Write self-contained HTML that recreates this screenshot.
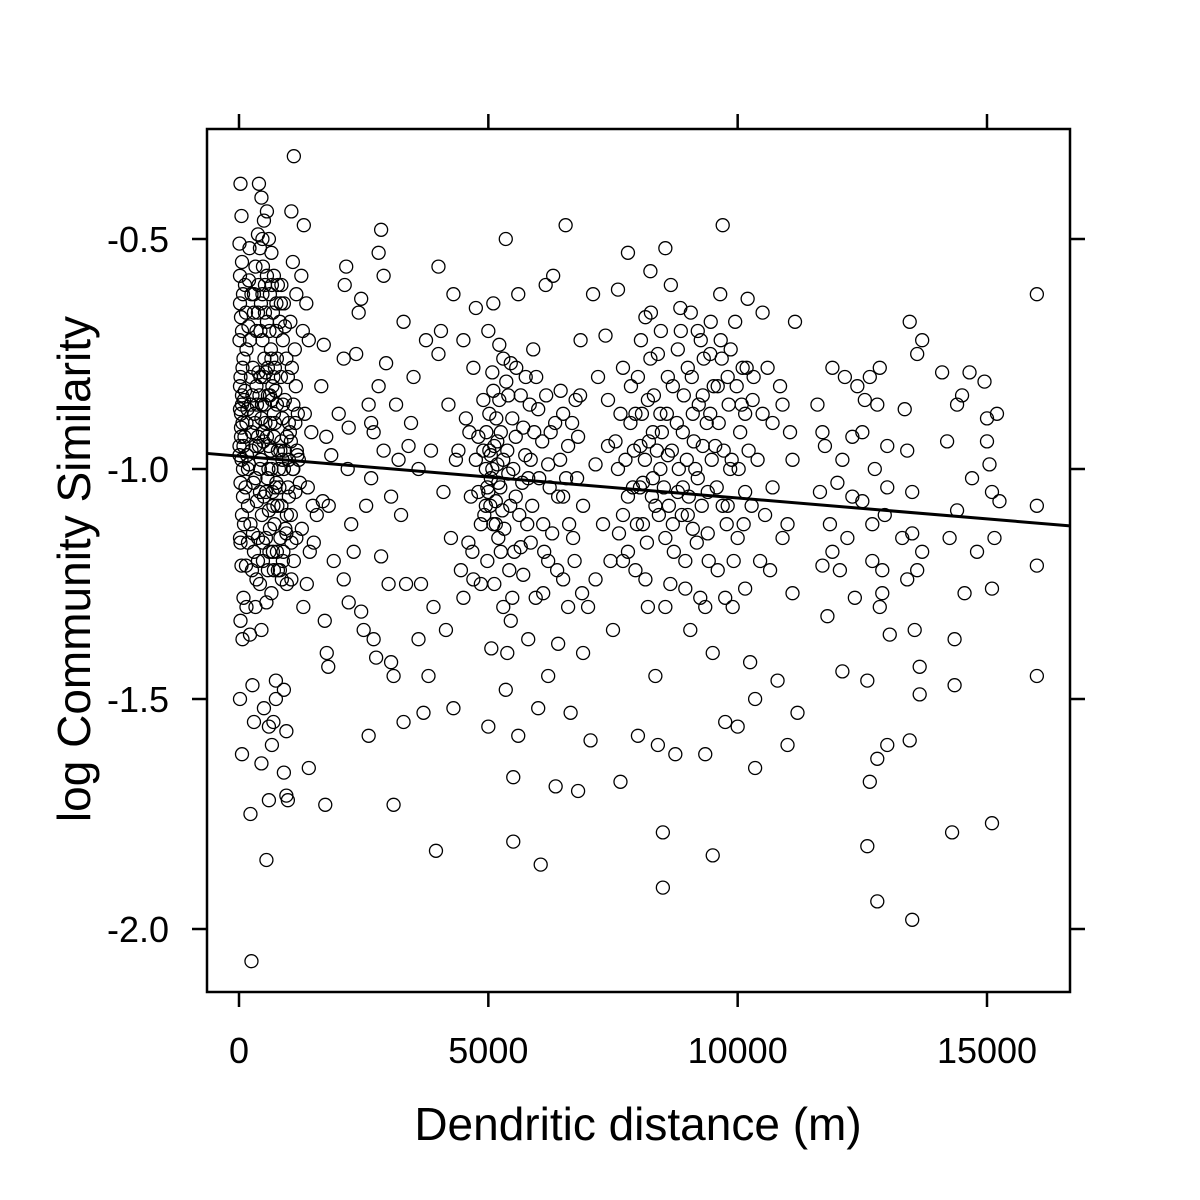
<!DOCTYPE html>
<html><head><meta charset="utf-8"><style>
html,body{margin:0;padding:0;background:#fff;}
svg{display:block;font-family:"Liberation Sans",Arial,sans-serif;}
</style></head><body>
<svg id="chart" width="1200" height="1200" viewBox="0 0 1200 1200">
<rect x="207" y="129" width="863" height="863" fill="none" stroke="#000" stroke-width="2.5"/>
<g id="ticks"></g>
<g id="pts"></g>
<g id="fit"></g>
<text x="638" y="1140" font-size="46" text-anchor="middle">Dendritic distance (m)</text>
<text transform="translate(90,569) rotate(-90)" font-size="46" text-anchor="middle">log Community Similarity</text>
</svg>
<script>
const xTicks = [0, 5000, 10000, 15000];
const xTickLabels = ["0", "5000", "10000", "15000"];
const yTicks = [-0.5, -1.0, -1.5, -2.0];
const yTickLabels = ["-0.5", "-1.0", "-1.5", "-2.0"];
const fitIntercept = -0.972;
const fitSlope = -0.0000091;
const obs = [
[30,-0.38],[50,-0.45],[10,-0.51],[60,-0.55],[20,-0.58],[80,-0.62],[40,-0.67],[10,-0.72],[90,-0.76],[30,-0.80],[60,-0.84],[20,-0.87],[70,-0.90],[40,-0.93],[10,-0.97],[80,-1.00],[30,-1.03],[60,-1.10],[20,-1.15],[50,-1.21],[90,-1.28],[30,-1.33],[70,-1.37],[20,-1.50],[60,-1.62],[40,-0.88],[100,-0.85],[10,-0.95],[50,-0.98],[80,-1.06],[30,-1.16],[60,-0.70],[20,-0.64],
[200,-0.59],[250,-0.62],[300,-0.66],[220,-0.72],[280,-0.78],[350,-0.82],[240,-0.86],[310,-0.88],[260,-0.92],[330,-0.95],[200,-0.99],[290,-1.03],[360,-1.07],[230,-1.12],[300,-1.18],[260,-1.22],[330,-1.30],[220,-1.36],[270,-1.47],[300,-1.55],[230,-1.75],[250,-2.07],[210,-0.52],[330,-0.56],[380,-0.49],[390,-0.60],[400,-0.38],
[450,-0.41],[500,-0.46],[420,-0.52],[480,-0.56],[520,-0.60],[440,-0.64],[560,-0.68],[470,-0.72],[510,-0.76],[430,-0.80],[580,-0.84],[460,-0.86],[530,-0.90],[490,-0.94],[440,-0.98],[570,-1.02],[500,-1.06],[460,-1.10],[540,-1.15],[480,-1.20],[420,-1.25],[550,-1.29],[450,-1.35],[500,-1.52],[450,-1.64],[550,-1.85],[600,-1.56],[600,-1.72],[560,-0.44],[600,-0.50],
[650,-0.53],[700,-0.58],[620,-0.62],[680,-0.66],[750,-0.70],[640,-0.74],[720,-0.78],[670,-0.82],[760,-0.86],[630,-0.90],[700,-0.93],[780,-0.96],[650,-1.00],[730,-1.04],[690,-1.08],[620,-1.13],[760,-1.18],[700,-1.22],[650,-1.27],[740,-1.46],[690,-1.55],[660,-1.60],[740,-1.50],
[850,-0.60],[900,-0.64],[820,-0.68],[880,-0.72],[950,-0.76],[840,-0.80],[920,-0.85],[870,-0.89],[960,-0.93],[830,-0.96],[900,-1.00],[980,-1.04],[850,-1.08],[930,-1.13],[890,-1.18],[820,-1.22],[960,-1.25],[900,-1.48],[950,-1.57],[900,-1.66],[950,-1.71],[980,-1.72],[860,-1.24],[960,-1.10],
[1050,-0.44],[1100,-0.32],[1080,-0.55],[1150,-0.62],[1030,-0.68],[1120,-0.74],[1060,-0.78],[1140,-0.82],[1090,-0.86],[1020,-0.92],[1160,-0.96],[1080,-1.00],[1130,-1.05],[1040,-1.10],[1150,-1.15],[1100,-1.20],[1050,-1.24],[1170,-0.97],
[1300,-0.47],[1250,-0.58],[1350,-0.64],[1280,-0.70],[1400,-0.72],[1320,-0.88],[1450,-0.92],[1380,-1.04],[1260,-1.13],[1420,-1.18],[1360,-1.25],[1290,-1.30],[1480,-1.08],[1400,-1.65],[1560,-1.10],[1500,-1.16],
[1700,-0.73],[1650,-0.82],[1750,-0.93],[1680,-1.07],[1800,-1.08],[1720,-1.33],[1760,-1.40],[1790,-1.43],[1730,-1.73],[1900,-1.20],[1850,-0.97],
[2000,-0.88],[2100,-0.76],[2150,-0.56],[2120,-0.60],[2200,-0.91],[2180,-1.00],[2250,-1.12],[2100,-1.24],[2300,-1.18],[2200,-1.29],[2350,-0.75],[2400,-0.66],[2450,-0.63],[2450,-1.31],[2500,-1.35],[2550,-1.08],[2600,-0.86],[2600,-1.58],[2650,-1.02],[2700,-0.92],[2700,-1.37],[2750,-1.41],[2800,-0.53],[2850,-0.48],[2800,-0.82],[2900,-0.58],[2900,-0.96],[2850,-1.19],[3000,-1.25],[2950,-0.77],[3050,-1.42],[3100,-1.45],[3100,-1.73],[3150,-0.86],[3200,-0.98],[3250,-1.10],[3300,-0.68],[3300,-1.55],[3350,-1.25],[3400,-0.95],[3450,-0.90],[3500,-0.80],[3600,-1.37],[3650,-1.25],[3700,-1.53],[3750,-0.72],[3800,-1.45],[3850,-0.96],[3900,-1.30],[3950,-1.83],[4000,-0.56],[4000,-0.75],[4050,-0.70],[4100,-1.05],[4150,-1.35],[4200,-0.86],[4250,-1.15],[4300,-1.52],[4300,-0.62],[4350,-0.98],[4400,-0.96],[4450,-1.22],[4500,-1.28],[4500,-0.72],[4550,-0.89],[4600,-1.16],[4650,-1.06],[4700,-1.24],[4700,-0.78],[4750,-0.65],[4800,-0.93],
[4900,-0.85],[4950,-1.00],[5000,-1.05],[5050,-0.97],[4920,-1.10],[5100,-0.64],[5000,-0.70],[5080,-0.79],[5020,-0.88],[4980,-1.20],[5120,-1.25],[5060,-1.39],[5000,-1.56],[5150,-1.12],[5200,-1.03],[5180,-0.94],[5220,-0.73],[5250,-1.18],[5300,-1.30],[5350,-0.50],[5350,-1.48],[5400,-1.01],[5400,-0.84],[5450,-0.77],[5450,-1.33],[5500,-1.67],[5500,-1.81],[5550,-1.06],[5550,-0.93],[5600,-0.62],[5600,-1.58],[5650,-1.17],[5700,-0.91],[5700,-1.23],[5750,-0.80],[5800,-1.37],[5800,-1.02],[5850,-0.98],[5900,-0.74],[5950,-1.28],[6000,-1.52],[6050,-1.86],[6000,-0.87],[6100,-1.12],[6150,-0.60],[6200,-1.20],[6200,-1.45],[6250,-0.92],[6300,-0.58],[6350,-1.69],[6400,-1.06],[6400,-1.38],[6450,-0.83],[6500,-1.24],[6550,-0.47],[6600,-0.95],[6600,-1.30],[6650,-1.53],[6700,-1.15],[6750,-0.85],[6800,-1.70],[6850,-0.72],[6900,-1.08],[6900,-1.40],[7000,-1.30],[7050,-1.59],[7100,-0.62],[7150,-0.99],[7200,-0.80],[7300,-1.12],[7350,-0.71],[7400,-0.85],[7450,-1.20],[7500,-1.35],[7550,-0.94],[7600,-0.61],[7650,-1.68],[7700,-1.10],[7700,-0.78],
[7800,-0.53],[7850,-0.90],[7900,-1.04],[7950,-1.22],[8000,-0.80],[8000,-1.58],[8050,-0.95],[8100,-1.12],[8150,-0.67],[8200,-1.30],[8200,-0.85],[8250,-0.57],[8300,-1.02],[8350,-1.45],[8400,-0.75],[8400,-1.60],[8450,-0.88],[8500,-1.79],[8500,-1.91],[8550,-1.15],[8550,-0.52],[8600,-0.97],[8650,-1.25],[8700,-0.82],[8750,-1.62],[8800,-1.05],[8850,-0.65],[8900,-0.92],[8950,-1.20],[9000,-1.10],[9000,-0.78],[9050,-1.35],[9100,-0.88],[9150,-1.00],[9200,-0.70],[9250,-1.28],[9300,-0.84],[9350,-1.62],[9400,-1.05],[9400,-1.14],[9450,-0.75],[9500,-1.84],[9500,-1.40],[9550,-0.95],[9600,-1.22],[9650,-0.62],[9700,-0.47],[9700,-1.08],[9750,-1.55],[9800,-0.80],[9850,-1.00],[9900,-1.30],[9950,-0.68],[10000,-1.15],[10000,-1.56],[10050,-0.92],[10100,-0.78],[10150,-1.05],[10200,-0.63],[10250,-1.42],[10300,-0.85],[10350,-1.50],[10350,-1.65],[10400,-0.98],[10450,-1.20],[10500,-0.66],[10550,-1.10],[10600,-0.78],[10700,-0.90],[10800,-1.46],[10850,-0.82],[10900,-1.15],[11000,-1.60],[11050,-0.92],[11100,-1.27],[11150,-0.68],[11200,-1.53],
[11600,-0.86],[11650,-1.05],[11700,-1.21],[11750,-0.95],[11800,-1.32],[11850,-1.12],[11900,-0.78],[12000,-1.03],[12050,-1.22],[12100,-1.44],[12150,-0.80],[12200,-1.15],[12300,-0.93],[12350,-1.28],[12400,-0.82],[12500,-1.07],[12550,-0.85],[12600,-1.46],[12600,-1.82],[12650,-1.68],[12700,-1.20],[12750,-1.00],[12800,-1.63],[12800,-1.94],[12850,-0.78],[12900,-1.27],[12950,-1.10],[13000,-0.95],[13000,-1.60],[13050,-1.36],[13300,-1.15],[13350,-0.87],[13400,-1.24],[13450,-0.68],[13450,-1.59],[13500,-1.98],[13500,-1.05],[13550,-1.35],[13600,-0.75],[13650,-1.43],[13700,-1.18],[13700,-0.72],[13650,-1.49],
[14100,-0.79],[14200,-0.94],[14250,-1.15],[14300,-1.79],[14350,-1.47],[14350,-1.37],[14400,-1.09],[14500,-0.84],[14550,-1.27],[14650,-0.79],[14700,-1.02],[14800,-1.18],[14950,-0.81],[15000,-0.89],[15050,-0.99],[15100,-1.05],[15100,-1.26],[15100,-1.77],[15150,-1.15],[15200,-0.88],[15250,-1.07],[16000,-0.62],[16000,-1.08],[16000,-1.21],[16000,-1.45],
[150,-0.74],[150,-0.90],[180,-1.00],[350,-0.70],[380,-0.93],[420,-1.05],[540,-0.79],[600,-0.95],[660,-0.85],[720,-0.90],[800,-1.00],[780,-0.60],[830,-1.15],[870,-0.98],[980,-0.80],[1000,-0.90],[140,-1.21],[380,-1.15],[610,-1.18],[750,-1.03],[920,-0.69],
[5050,-1.02],[5150,-1.07],[5250,-0.92],[5300,-0.98],[4950,-1.08],[5200,-1.15],[5100,-0.83],[8300,-0.92],[8350,-1.08],[8450,-1.00],[8100,-1.03],[8600,-0.80],[9200,-1.02],[9300,-0.95],[9450,-0.88],[9600,-0.82],[8700,-1.12],[8900,-1.04],[7800,-1.18],[7950,-0.88],[9100,-1.13],[9800,-1.08],[10150,-0.88],[8800,-0.74],[8250,-0.76],[7600,-1.00],[7400,-0.95],[6200,-0.99],[6100,-1.27],[5850,-1.16],[5650,-0.84],[6800,-0.93],[7150,-1.24],[6500,-1.06],[4850,-1.25],[3600,-1.00],[3050,-1.06],[2650,-0.90],
[20,-0.82],[60,-0.86],[40,-0.91],[90,-0.95],[120,-0.83],[170,-0.87],[110,-0.93],[160,-0.97],[130,-1.04],[180,-1.08],[100,-1.12],[140,-0.66],[190,-0.69],[120,-0.60],[70,-0.78],[240,-0.80],[270,-0.84],[320,-0.90],[360,-0.86],[390,-0.79],[410,-0.84],[450,-0.89],[400,-0.95],[480,-0.92],[520,-0.86],[560,-0.93],[500,-0.80],[430,-0.70],[380,-0.66],[470,-0.62],[520,-0.66],[560,-0.58],[610,-0.70],[650,-0.76],[690,-0.80],[620,-0.84],[580,-0.78],[700,-0.88],[730,-0.83],[760,-0.76],[640,-0.96],[590,-1.00],[540,-1.05],[600,-1.09],[670,-1.05],[710,-1.12],[770,-1.08],[810,-1.04],[850,-0.94],[880,-0.86],[920,-0.96],[1000,-0.98],[1040,-0.94],[1090,-1.00],[1130,-0.90],[1000,-1.06],[950,-1.14],[1050,-1.16],[880,-1.20],[780,-1.22],[680,-1.18],[580,-1.22],[480,-1.16],[380,-1.20],[280,-1.14],[180,-1.16],[330,-1.02],[250,-0.96],[150,-1.30],[350,-1.24],[420,-1.00],[840,-0.64],[750,-0.64],[660,-0.60],[300,-0.62],[470,-0.50],[1200,-0.98],[1220,-1.03],[1180,-0.88],
[4900,-0.96],[4960,-0.92],[5020,-0.96],[5080,-1.00],[5120,-0.95],[5180,-0.99],[5240,-1.04],[4980,-1.04],[5040,-1.08],[5100,-1.12],[5160,-0.89],[5220,-0.85],[5280,-1.09],[5320,-1.13],[5380,-0.96],[5440,-1.08],[5500,-1.00],[5480,-0.89],[5360,-0.81],[5300,-0.76],[5420,-1.22],[5480,-1.28],[5380,-1.40],[5520,-1.18],[5560,-0.78],[5620,-1.10],[5680,-1.03],[5740,-0.97],[5780,-1.12],[5830,-0.86],[5880,-1.08],[5920,-0.92],[5960,-0.80],[6020,-1.02],[6080,-0.94],[6120,-1.18],[6160,-0.84],[6230,-1.04],[6280,-1.14],[6340,-0.90],[6380,-1.22],[6440,-0.98],[6500,-0.88],[6560,-1.02],[6620,-1.12],[6680,-0.90],[6730,-1.20],[6780,-1.02],[6840,-0.84],[6880,-1.27],[4850,-1.12],[4800,-1.05],[4750,-0.98],[4680,-1.18],[4620,-0.92],
[7750,-0.98],[7800,-1.06],[7860,-0.82],[7920,-0.96],[7980,-1.12],[8040,-1.04],[8080,-0.88],[8140,-0.98],[8180,-1.16],[8220,-0.94],[8280,-1.06],[8320,-0.84],[8380,-0.96],[8420,-1.10],[8480,-0.92],[8520,-1.04],[8580,-0.88],[8620,-1.08],[8680,-0.96],[8720,-1.18],[8780,-0.90],[8820,-1.00],[8880,-1.10],[8920,-0.84],[8980,-0.98],[9020,-1.06],[9080,-0.80],[9120,-0.94],[9180,-1.16],[9220,-0.86],[9280,-1.08],[9320,-0.76],[9380,-0.90],[9420,-1.20],[9480,-0.98],[9520,-0.82],[9580,-1.04],[9620,-0.90],[9680,-0.76],[9720,-0.96],[9780,-1.12],[9820,-0.86],[9880,-0.98],[9920,-1.20],[9980,-0.82],[10020,-1.00],[10080,-0.86],[10120,-1.12],[10180,-0.78],[10220,-0.96],[10280,-1.08],[10320,-0.80],[8060,-0.72],[8260,-0.66],[8460,-0.70],[8660,-0.60],[8860,-0.70],[9060,-0.66],[9260,-0.72],[9460,-0.68],[9660,-0.72],[9860,-0.74],[8150,-1.24],[8550,-1.30],[8950,-1.26],[9350,-1.30],[9750,-1.28],[10150,-1.26],[7650,-0.88],[7700,-1.20],[7620,-1.14],
[11700,-0.92],[11900,-1.18],[12100,-0.98],[12300,-1.06],[12500,-0.92],[12700,-1.12],[12800,-0.86],[12900,-1.22],[13000,-1.04],[13400,-0.96],[13500,-1.14],[13600,-1.22],[12850,-1.30],[12650,-0.80],[14400,-0.86],[15000,-0.94],[10500,-0.88],[10700,-1.04],[10900,-0.86],[11100,-0.98],[10650,-1.22],[11000,-1.12]
];

const X0 = 239, XS = (987 - 239) / 15000;
const Y0 = 239, YS = (929 - 239) / 1.5;
function xPos(v){ return X0 + v * XS; }
function yPos(v){ return Y0 + (-0.5 - v) * YS; }
const NS = "http://www.w3.org/2000/svg";

const tg = document.getElementById('ticks');
xTicks.forEach((t, i) => {
  const x = xPos(t);
  [[129, 114], [992, 1007]].forEach(([a, b], k) => {
    const l = document.createElementNS(NS, 'line');
    l.setAttribute('x1', x); l.setAttribute('x2', x); l.setAttribute('y1', a); l.setAttribute('y2', b);
    l.setAttribute('stroke', '#000'); l.setAttribute('stroke-width', '2.5');
    
    
    tg.appendChild(l);
  });
  const tx = document.createElementNS(NS, 'text');
  tx.setAttribute('x', x); tx.setAttribute('y', 1063);
  tx.setAttribute('font-size', '36'); tx.setAttribute('text-anchor', 'middle');
  tx.textContent = xTickLabels[i];
  
  
  tg.appendChild(tx);
});
yTicks.forEach((t, i) => {
  const y = yPos(t);
  [[207, 192], [1070, 1085]].forEach(([a, b], k) => {
    const l = document.createElementNS(NS, 'line');
    l.setAttribute('x1', a); l.setAttribute('x2', b); l.setAttribute('y1', y); l.setAttribute('y2', y);
    l.setAttribute('stroke', '#000'); l.setAttribute('stroke-width', '2.5');
    
    
    tg.appendChild(l);
  });
  const tx = document.createElementNS(NS, 'text');
  tx.setAttribute('x', 169); tx.setAttribute('y', y + 13);
  tx.setAttribute('font-size', '36'); tx.setAttribute('text-anchor', 'end');
  tx.textContent = yTickLabels[i];
  
  
  tg.appendChild(tx);
});

const pg = document.getElementById('pts');
obs.forEach(p => {
  const c = document.createElementNS(NS, 'circle');
  c.setAttribute('cx', xPos(p[0])); c.setAttribute('cy', yPos(p[1]));
  c.setAttribute('r', 6.5); c.setAttribute('fill', 'none');
  c.setAttribute('stroke', '#000'); c.setAttribute('stroke-width', '1.3');
  
  
  pg.appendChild(c);
});

const xa = (207 - X0) / XS, xb = (1070 - X0) / XS;
const fl = document.createElementNS(NS, 'line');
fl.setAttribute('x1', 207); fl.setAttribute('y1', yPos(fitIntercept + fitSlope * xa));
fl.setAttribute('x2', 1070); fl.setAttribute('y2', yPos(fitIntercept + fitSlope * xb));
fl.setAttribute('stroke', '#000'); fl.setAttribute('stroke-width', '3');


document.getElementById('fit').appendChild(fl);
</script>
</body></html>
